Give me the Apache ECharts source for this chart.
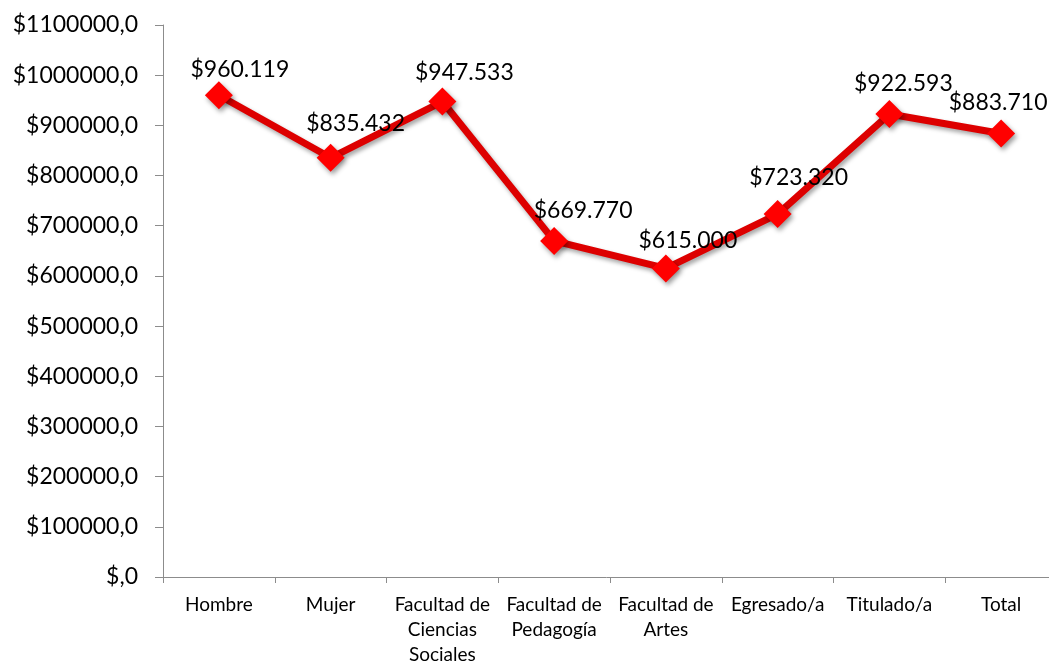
<!DOCTYPE html>
<html>
<head>
<meta charset="utf-8">
<script src="https://cdn.jsdelivr.net/npm/echarts@6/dist/echarts.min.js"></script>
<style>
  html, body { margin: 0; padding: 0; background: #fff; }
  #chart { width: 1049px; height: 665px; }
</style>
</head>
<body>
<div id="chart"></div>
<script>
// Categories (line breaks follow the wrapped axis labels)
const categories = [
  'Hombre',
  'Mujer',
  'Facultad de\nCiencias\nSociales',
  'Facultad de\nPedagogía',
  'Facultad de\nArtes',
  'Egresado/a',
  'Titulado/a',
  'Total'
];

// Average amounts per group
const values = [960119, 835432, 947533, 669770, 615000, 723320, 922593, 883710];

// Value axis range
const yMin = 0;
const yMax = 1100000;
const yStep = 100000;

// Per-point nudges for the value labels [dx, dy] in px
const labelNudges = [[21, 0], [25, -9], [22, -3], [29, -5], [22, -2], [21, -11], [14, -5], [-3, -5]];

const FONT = 'Lato, "Open Sans", sans-serif';

// "$960.119" style: dot as thousands separator
function money(v) {
  return '$' + String(Math.round(v)).replace(/\B(?=(\d{3})+(?!\d))/g, '.');
}

const seriesData = values.map((v, i) => ({
  value: v,
  label: { offset: labelNudges[i] }
}));

const chart = echarts.init(document.getElementById('chart'), null, { renderer: 'canvas' });

chart.setOption({
  animation: false,
  backgroundColor: '#ffffff',
  grid: {
    left: 163, top: 25, width: 894, height: 552,
    containLabel: false,
    outerBoundsMode: 'none'
  },
  xAxis: {
    type: 'category',
    data: categories,
    boundaryGap: true,
    axisLine: { lineStyle: { color: '#8c8c8c', width: 1 } },
    axisTick: { show: true, alignWithLabel: false, length: 6, lineStyle: { color: '#8c8c8c' } },
    axisLabel: {
      color: '#000',
      fontFamily: FONT,
      fontSize: 19,
      lineHeight: 25,
      margin: 15,
      interval: 0
    },
    splitLine: { show: false }
  },
  yAxis: {
    type: 'value',
    min: yMin,
    max: yMax,
    interval: yStep,
    axisLine: { show: true, lineStyle: { color: '#8c8c8c', width: 1 } },
    axisTick: { show: true, length: 8, lineStyle: { color: '#8c8c8c' } },
    axisLabel: {
      color: '#000',
      fontFamily: FONT,
      fontSize: 23,
      margin: 25,
      formatter: function (v) { return '$' + (v === 0 ? '' : v) + ',0'; }
    },
    splitLine: { show: false }
  },
  series: [{
    type: 'line',
    data: seriesData,
    symbol: 'diamond',
    symbolSize: 28,
    lineStyle: {
      color: '#dd0000',
      width: 7,
      shadowColor: 'rgba(0,0,0,0.35)',
      shadowBlur: 4,
      shadowOffsetX: 2,
      shadowOffsetY: 3
    },
    itemStyle: {
      color: '#ff0000',
      shadowColor: 'rgba(0,0,0,0.4)',
      shadowBlur: 5,
      shadowOffsetX: 2,
      shadowOffsetY: 3
    },
    label: {
      show: true,
      position: 'top',
      distance: 0,
      color: '#000',
      fontFamily: FONT,
      fontSize: 23,
      formatter: function (p) { return money(p.value); }
    }
  }]
});
</script>
</body>
</html>
